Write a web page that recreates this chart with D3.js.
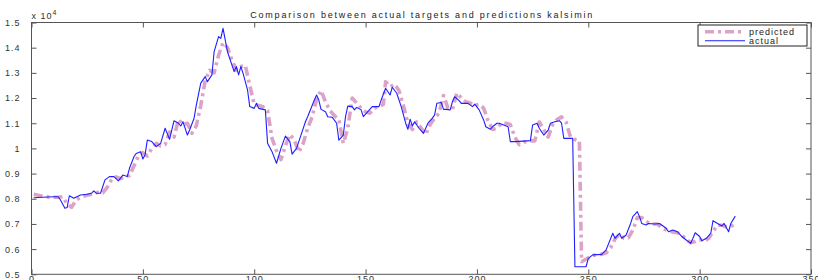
<!DOCTYPE html>
<html><head><meta charset="utf-8">
<script src="https://cdn.jsdelivr.net/npm/d3@7"></script>
<style>body{margin:0;background:#fff}svg{display:block}text{font-family:"Liberation Sans",Arial,sans-serif}</style>
</head><body><svg id="c" width="818" height="280"></svg>
<script>
const titleText = "Comparison between actual targets and predictions kalsimin";
const seriesNames = ["predicted", "actual"];
const xTicks = [0, 50, 100, 150, 200, 250, 300, 350];
const yTicks = [5000, 6000, 7000, 8000, 9000, 10000, 11000, 12000, 13000, 14000, 15000];

const actualX = [1,5,10,12,13,15,16,17,19,22,25,27,28,29,31,33,35,37,39,41,43,44,46,47,49,50,51,52,54,56,58,60,62,64,66,67,68,70,71,73,74,76,78,79,81,82,84,85,86,87,88,90,91,92,93,94,95,97,98,100,101,102,104,105,106,108,110,112,114,116,117,119,121,123,124,127,128,129,130,132,133,135,137,138,140,141,142,144,145,146,148,149,151,153,156,157,159,161,162,164,166,168,169,170,171,172,174,176,178,180,181,182,184,185,186,188,189,190,192,193,196,198,199,201,203,204,206,207,209,210,212,214,215,217,221,224,225,227,228,230,232,233,235,237,238,239,243,244,249,250,252,256,258,261,262,264,265,267,269,270,272,273,274,276,277,280,282,285,286,288,290,292,294,296,297,298,300,301,303,305,306,308,310,311,313,314,316];
const actualY = [8040,8060,8080,8080,7950,7620,7650,8120,8020,8150,8180,8220,8310,8220,8220,8750,8880,8880,8710,8940,8880,9210,9670,9800,9870,9580,9750,10330,10270,10070,10200,10800,10360,11100,11000,10890,11060,10530,10730,11200,11720,12590,12850,12650,12920,13840,14440,14370,14770,14300,13840,13310,13050,13250,12920,13250,12980,12320,11660,11590,11790,11590,11550,11530,10200,9870,9410,10000,10490,10270,9770,10000,10530,11060,11260,11920,12120,11920,11550,11460,11260,11240,11000,10330,10530,11260,11680,11660,11530,11630,11530,11260,11460,11660,11660,11920,12390,12120,12430,12190,11660,11000,10760,11160,10890,11060,10800,10600,11000,11200,11330,11790,11820,11550,11550,11530,11860,12050,11900,11790,11790,11660,11760,11530,11130,10860,10760,10860,11000,11000,10930,10860,10270,10270,10290,10310,10930,11000,10800,10530,10730,11000,11060,11100,11000,10400,10400,5300,5300,5630,5770,5790,5970,6630,6430,6630,6430,6560,7020,7290,7490,7290,7020,6960,7020,7000,7020,6830,6690,6760,6690,6500,6360,6230,6430,6650,6500,6330,6430,6630,7130,7020,6920,7020,6690,7020,7310];

const predX = [1,4,8,12,14,16,18,20,22,24,27,30,32,34,36,38,40,42,44,46,48,50,52,54,56,58,60,62,64,66,68,70,72,74,76,78,80,82,84,86,88,90,92,94,96,98,100,102,104,106,108,110,112,114,116,118,120,122,124,126,128,130,132,134,136,138,140,142,144,146,148,150,152,154,156,158,159,161,163,165,167,169,171,173,175,177,179,181,183,185,187,189,191,193,195,197,199,201,203,205,207,209,211,213,215,217,219,221,224,226,228,230,232,234,236,238,240,242,245,246,247,249,252,256,258,260,262,264,266,268,270,272,274,276,278,281,284,286,288,290,292,294,296,298,300,302,304,306,308,310,312,314,316];
const predY = [8180,8120,8060,8060,8080,7800,7660,7950,8050,8120,8180,8260,8240,8450,8780,8870,8800,8870,8920,9300,9700,9830,9700,10000,10200,10100,10150,10650,10450,11150,10950,11000,10600,10900,11700,12700,13100,13000,13700,14200,14000,13500,13100,13250,13300,12500,11750,11700,11650,11500,10400,9900,9550,10100,10550,10350,9850,10200,10800,11250,11950,12300,11850,11500,11300,11150,10200,10800,12000,11800,11600,11450,11400,11600,11650,11750,12650,12450,12550,12300,11700,11000,10750,11050,10800,10550,10950,11200,11400,12100,11600,11550,12200,12000,11850,11800,11700,11750,11600,11100,10750,10800,11000,11000,10950,10450,10150,10250,10300,10300,11050,10750,10450,10950,11150,11250,11050,10450,10300,10300,5500,5600,5750,5800,5850,6050,6400,6600,6430,6450,6750,7250,7250,7100,7000,7000,6800,6720,6680,6650,6550,6400,6250,6300,6380,6320,6420,6700,6950,6950,6880,6900,7020];

const svg = d3.select("#c");
const L = 31.5, R = 811, T = 22.5, B = 274.3;
const x = d3.scaleLinear().domain([0, 350]).range([L, R]);
const y = d3.scaleLinear().domain([5000, 15000]).range([B, T]);
const axisColor = "#555";
const fontSize = 9;

const actual = actualX.map((v, i) => [v, actualY[i]]);
const pred = predX.map((v, i) => [v, predY[i]]);
const line = d3.line().x(d => x(d[0])).y(d => y(d[1]));

// predicted
svg.append("path").attr("d", line(pred)).attr("fill", "none")
  .attr("stroke", "#dca2c8").attr("stroke-width", 3.6)
  .attr("stroke-dasharray", "9,4,3,4").attr("stroke-linejoin", "round");
// actual
svg.append("path").attr("d", line(actual)).attr("fill", "none")
  .attr("stroke", "#1f1fff").attr("stroke-width", 1.1).attr("stroke-linejoin", "round");

// axes (box with inner ticks)
const tl = 5;
const fmtY = d => d3.format(".1f")(d / 10000).replace(/\.0$/, "");
svg.append("g").attr("transform", `translate(0,${B})`)
  .call(d3.axisBottom(x).tickValues(xTicks).tickSize(-tl).tickPadding(1.5).tickFormat(d3.format("d")))
  .call(g => g.select(".domain").remove());
svg.append("g").attr("transform", `translate(0,${T})`)
  .call(d3.axisTop(x).tickValues(xTicks).tickSize(-tl).tickFormat(""))
  .call(g => g.select(".domain").remove());
svg.append("g").attr("transform", `translate(${L},0)`)
  .call(d3.axisLeft(y).tickValues(yTicks).tickSize(-tl).tickPadding(tl + 6).tickFormat(fmtY))
  .call(g => g.select(".domain").remove());
svg.append("g").attr("transform", `translate(${R},0)`)
  .call(d3.axisRight(y).tickValues(yTicks).tickSize(-tl).tickFormat(""))
  .call(g => g.select(".domain").remove());
svg.selectAll(".tick line").attr("stroke", axisColor);
svg.selectAll(".tick text").attr("fill", "#333").style("font-size", fontSize + "px")
  .style("font-family", '"Liberation Sans",Arial,sans-serif').style("letter-spacing", "1px");
svg.append("rect").attr("x", L).attr("y", T).attr("width", R - L).attr("height", B - T)
  .attr("fill", "none").attr("stroke", axisColor).attr("stroke-width", 1);

// exponent
const ex = svg.append("text").attr("x", L).attr("y", 19).attr("fill", "#333")
  .style("font-size", fontSize + "px").style("letter-spacing", "1px");
ex.append("tspan").text("x 10");
ex.append("tspan").attr("dy", -4).style("font-size", "7px").text("4");

// title
svg.append("text").attr("x", (L + R) / 2).attr("y", 18).attr("text-anchor", "middle")
  .attr("fill", "#222").style("font-size", fontSize + "px")
  .attr("textLength", 342).attr("lengthAdjust", "spacing").text(titleText);

// legend
const lg = svg.append("g");
lg.append("rect").attr("x", 698).attr("y", 25).attr("width", 109).attr("height", 21)
  .attr("fill", "#fff").attr("stroke", "#222").attr("stroke-width", 1);
lg.append("line").attr("x1", 705).attr("x2", 742).attr("y1", 31.7).attr("y2", 31.7)
  .attr("stroke", "#dca2c8").attr("stroke-width", 3.6).attr("stroke-dasharray", "9,4,3,4");
lg.append("line").attr("x1", 705).attr("x2", 745).attr("y1", 40.7).attr("y2", 40.7)
  .attr("stroke", "#1f1fff").attr("stroke-width", 1.1);
lg.selectAll("text.lab").data(seriesNames).join("text").attr("class", "lab")
  .attr("x", 749).attr("y", (d, i) => 34.5 + i * 9).attr("fill", "#222")
  .style("font-size", fontSize + "px").style("letter-spacing", "1px").text(d => d);
</script></body></html>
